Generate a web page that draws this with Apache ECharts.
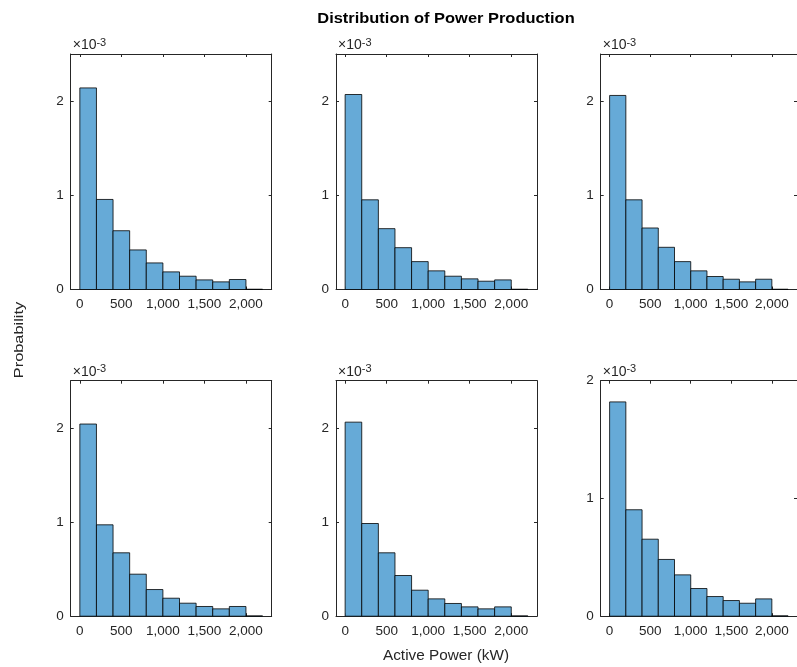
<!DOCTYPE html>
<html>
<head>
<meta charset="utf-8">
<script src="https://cdn.jsdelivr.net/npm/echarts@6/dist/echarts.min.js"></script>
<style>html,body{margin:0;padding:0;background:#fff;}#c{width:797px;height:667px;}</style>
</head>
<body>
<div id="c"></div>
<script>
// ---- data ----
const binEdges = [0, 200, 400, 600, 800, 1000, 1200, 1400, 1600, 1800, 2000, 2200];
const xTickValues = [0, 500, 1000, 1500, 2000];
const yTickValues = [0, 0.001, 0.002];
const prob1 = [0.00214, 0.000956, 0.000624, 0.000420, 0.000282, 0.000187, 0.000141, 0.000102, 0.000081, 0.000106, 0.000003];
const prob2 = [0.00207, 0.000952, 0.000646, 0.000444, 0.000296, 0.000198, 0.000141, 0.000113, 0.000088, 0.000102, 0.000003];
const prob3 = [0.00206, 0.000952, 0.000653, 0.000448, 0.000296, 0.000198, 0.000138, 0.000109, 0.000081, 0.000109, 0.000003];
const prob4 = [0.00204, 0.000970, 0.000673, 0.000446, 0.000283, 0.000191, 0.000138, 0.000103, 0.000078, 0.000103, 0.000003];
const prob5 = [0.00206, 0.000984, 0.000673, 0.000432, 0.000276, 0.000184, 0.000135, 0.000099, 0.000078, 0.000099, 0.000003];
const prob6 = [0.00182, 0.000904, 0.000654, 0.000482, 0.000351, 0.000235, 0.000167, 0.000133, 0.000110, 0.000147, 0.000003];
const allProbs = [prob1, prob2, prob3, prob4, prob5, prob6];
const yMaxes = [0.0025, 0.0025, 0.0025, 0.0025, 0.0025, 0.002];
const xMin = -110, xMax = 2310;
const titleText = 'Distribution of Power Production';
const xLabelText = 'Active Power (kW)';
const yLabelText = 'Probability';

// ---- layout ----
const colLeft = [70.7, 336, 600.7];
const rowTop = [54, 380.7];
const plotW = 201, plotH = 235.5;
const FONT = '"Liberation Sans", Arial, Helvetica, sans-serif';
const AX = '#262626';
const FACE = '#66AAD7';

const grid = [], xAxis = [], yAxis = [], series = [];
for (let i = 0; i < 6; i++) {
  const r = Math.floor(i / 3), c = i % 3;
  grid.push({left: colLeft[c], top: rowTop[r], width: plotW, height: plotH, containLabel: false});
  const common = {type: 'value', gridIndex: i, min: xMin, max: xMax, splitLine: {show: false},
    axisLine: {show: true, onZero: false, lineStyle: {color: AX, width: 1}},
    axisTick: {show: true, inside: true, length: 3, customValues: xTickValues, lineStyle: {color: AX}}};
  xAxis.push(Object.assign({}, common, {position: 'bottom',
    axisLabel: {show: true, customValues: xTickValues, color: AX, fontSize: 13.5, fontFamily: FONT, margin: 8,
      formatter: v => Number(v).toLocaleString('en-US')}}));
  xAxis.push(Object.assign({}, common, {position: 'top', axisLabel: {show: false}}));
  const yc = {type: 'value', gridIndex: i, min: 0, max: yMaxes[i], splitLine: {show: false},
    axisLine: {show: true, onZero: false, lineStyle: {color: AX, width: 1}},
    axisTick: {show: true, inside: true, length: 3, customValues: yTickValues, lineStyle: {color: AX}}};
  yAxis.push(Object.assign({}, yc, {position: 'left',
    name: '{a|\u00d710}{b|-3}', nameLocation: 'end', nameGap: 0,
    nameTextStyle: {align: 'left', padding: [0, 0, 0, 2], rich: {
      a: {fontSize: 14, color: AX, fontFamily: FONT},
      b: {fontSize: 11, color: AX, fontFamily: FONT, verticalAlign: 'top', padding: [0, 0, 6, 0]}}},
    axisLabel: {show: true, customValues: yTickValues, color: AX, fontSize: 13.5, fontFamily: FONT, margin: 7,
      formatter: v => String(Math.round(v * 1000))}}));
  yAxis.push(Object.assign({}, yc, {position: 'right', axisLabel: {show: false}}));
  const vals = allProbs[i];
  series.push({
    type: 'custom', xAxisIndex: 2 * i, yAxisIndex: 2 * i, clip: false,
    encode: {x: [0, 1], y: 2},
    data: vals.map((v, k) => [binEdges[k], binEdges[k + 1], v]),
    renderItem: function (params, api) {
      const p0 = api.coord([api.value(0), api.value(2)]);
      const p1 = api.coord([api.value(1), 0]);
      return {type: 'rect', shape: {x: p0[0], y: p0[1], width: p1[0] - p0[0], height: p1[1] - p0[1]},
        style: {fill: FACE, stroke: '#000', lineWidth: 0.8}};
    }
  });
}

const chart = echarts.init(document.getElementById('c'), null, {renderer: 'canvas'});
chart.setOption({
  animation: false,
  backgroundColor: '#fff',
  graphic: [
    {type: 'text', x: 446, y: 18.5, scaleX: 1.06,
      style: {text: titleText, fontFamily: FONT, fontWeight: 'bold', fontSize: 15.5, fill: '#000', align: 'center', verticalAlign: 'middle'}},
    {type: 'text', x: 446, y: 655.5, scaleX: 1.057,
      style: {text: xLabelText, fontFamily: FONT, fontSize: 14.5, fill: AX, align: 'center', verticalAlign: 'middle'}},
    {type: 'text', x: 20, y: 340, rotation: Math.PI / 2, scaleX: 1.31,
      style: {text: yLabelText, fontFamily: FONT, fontSize: 12.5, fill: AX, align: 'center', verticalAlign: 'middle'}}
  ],
  grid, xAxis, yAxis, series
});
</script>
</body>
</html>
